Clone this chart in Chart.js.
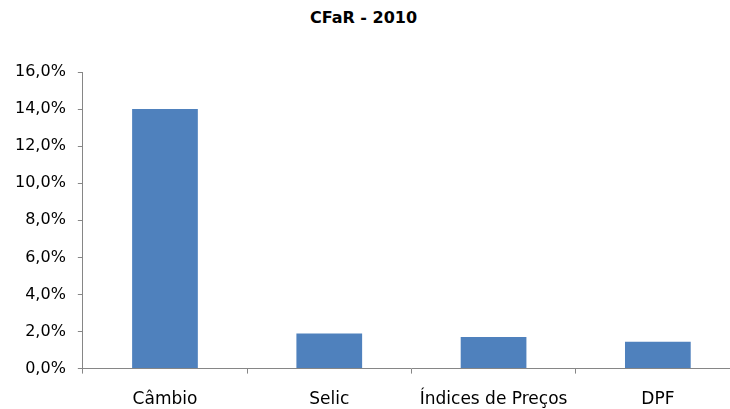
<!DOCTYPE html>
<html>
<head>
<meta charset="utf-8">
<script src="https://cdn.jsdelivr.net/npm/chart.js@4.4.0/dist/chart.umd.min.js"></script>
<style>
  html, body { margin: 0; padding: 0; background: #fff; }
  #wrap { position: relative; width: 730px; height: 409px; overflow: hidden; }
  #box { position: absolute; left: 0; top: 0; width: 740px; height: 426px; }
  #titulo { position: absolute; left: 0; top: 8px; width: 727px; text-align: center;
    font: bold 16px "DejaVu Sans"; color: #000; }
</style>
</head>
<body>
<div id="wrap">
  <div id="titulo">CFaR - 2010</div>
  <div id="box"><canvas id="grafico"></canvas></div>
</div>
<script>
// dados do gráfico (em %)
const categorias = ["Câmbio", "Selic", "Índices de Preços", "DPF"];
const valores = [14.0, 1.9, 1.7, 1.45];
const ticksY = [0, 2, 4, 6, 8, 10, 12, 14, 16];

const cinza = '#868686';

new Chart(document.getElementById('grafico'), {
  type: 'bar',
  data: {
    labels: categorias,
    datasets: [{
      label: 'CFaR',
      data: valores,
      backgroundColor: '#4F81BD',
      borderWidth: 0,
      categoryPercentage: 1.0,
      barPercentage: 0.4
    }]
  },
  options: {
    responsive: true,
    maintainAspectRatio: false,
    animation: false,
    layout: { padding: { top: 72, left: 3, right: 0, bottom: 0 } },
    plugins: {
      legend: { display: false },
      title: { display: false },
      tooltip: { enabled: false }
    },
    scales: {
      x: {
        offset: true,
        border: { display: true, color: cinza, width: 1 },
        grid: { display: true, drawOnChartArea: false, drawTicks: true, tickLength: 5, color: cinza, offset: true },
        ticks: { color: '#000', padding: 16, font: { family: 'DejaVu Sans', size: 17 } }
      },
      y: {
        min: ticksY[0],
        max: ticksY[ticksY.length - 1],
        border: { display: true, color: cinza, width: 1 },
        grid: { display: true, drawOnChartArea: false, drawTicks: true, tickLength: 5, color: cinza },
        afterBuildTicks: (axis) => { axis.ticks = ticksY.map(v => ({ value: v })); },
        ticks: {
          color: '#000',
          padding: 12,
          font: { family: 'DejaVu Sans', size: 16 },
          callback: (v) => v.toFixed(1).replace('.', ',') + '%'
        }
      }
    }
  }
});
</script>
</body>
</html>
